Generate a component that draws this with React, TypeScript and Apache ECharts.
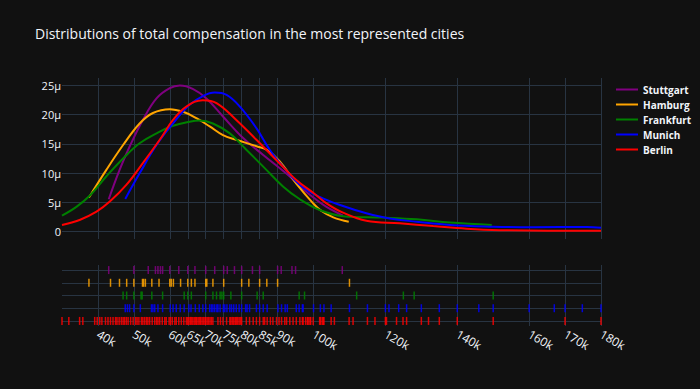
import React, { useEffect, useRef } from "react";
import * as echarts from "echarts";

// Values in thousands of euros (x) and micro-density (y)
const cities = ["Stuttgart", "Hamburg", "Frankfurt", "Munich", "Berlin"];
const colors = ["#800080", "#FFA500", "#008000", "#0000FF", "#FF0000"];

const xTicks = [40, 50, 60, 65, 70, 75, 80, 85, 90, 100, 120, 140, 160, 170, 180];
const yTicks = [0, 5, 10, 15, 20, 25];

const stuttgartKdeX = [43, 46, 48.8, 52.5, 56.3, 60, 62.8, 66.5, 70.2, 74.8, 80.4, 86, 93.4, 96.2, 100.8, 103.6, 108.2];
const stuttgartKdeY = [5.5, 10.5, 14.5, 19.1, 22.8, 24.55, 25.0, 24.4, 22.8, 19.7, 16, 13.1, 9.4, 7.7, 5.4, 4.2, 2.7];

const hamburgKdeX = [37.5, 42.3, 47, 51.6, 55.3, 60, 63.7, 67.4, 71.1, 74.8, 78.5, 84.1, 86.9, 90.6, 95.2, 99.9, 102, 105.5, 109.8];
const hamburgKdeY = [5.8, 10.5, 14.8, 18.5, 20.3, 20.95, 20.5, 19.4, 18, 16.5, 15.7, 14.6, 14, 12, 8.2, 4.8, 3.6, 2.4, 1.65];

const frankfurtKdeX = [30, 34, 37.7, 42.3, 47, 51.6, 56.3, 60.9, 65.5, 68.3, 72, 76.7, 81.3, 86, 91.5, 96.2, 101.7, 108.2, 119.4, 128.7, 138, 149.6];
const frankfurtKdeY = [2.7, 4.2, 6.1, 9.4, 12.5, 15.1, 16.8, 18.1, 18.8, 19, 18.5, 16.8, 14, 11.1, 7.7, 5.5, 3.65, 2.6, 2.35, 2.05, 1.5, 1.08];

const munichKdeX = [47.6, 51.6, 56.3, 60.9, 65.5, 69.2, 72.5, 75.8, 79.5, 84.1, 87.8, 91.5, 96.2, 101.7, 108.2, 114.7, 121.2, 128.7, 138, 150.1, 161.2, 176, 180];
const munichKdeY = [5.55, 9.95, 14.8, 18.5, 21.7, 23.2, 23.8, 23.4, 21.4, 17.7, 14, 11.1, 7.95, 5.9, 4.35, 3.1, 2.2, 1.65, 1.08, 0.8, 0.7, 0.75, 0.6];

const berlinKdeX = [30, 34.9, 39.6, 43.3, 47.9, 52.5, 57.2, 60.9, 64.6, 69.2, 73, 78.5, 84.1, 89.7, 95.2, 99.9, 103.6, 108.2, 114.7, 124, 133.3, 142.6, 151.9, 165, 180];
const berlinKdeY = [1.08, 1.94, 3.37, 5.1, 7.95, 11.7, 15.7, 19.1, 21.4, 22.5, 22, 19.1, 15.7, 12.2, 8.8, 6.6, 4.8, 3.2, 1.8, 1.37, 0.9, 0.45, 0.2, 0.1, 0.1];

const stuttgartRug = [43, 50, 54, 56, 56.7, 57.4, 58, 60, 62.5, 65, 67, 70, 72.5, 75, 76, 78, 80, 83, 85, 90, 91, 94, 95, 108];
const hamburgRug = [37.5, 43.5, 46, 48, 50, 52.4, 52.7, 53.2, 55, 57, 60, 60.4, 61, 63, 65, 66, 67, 70, 70.3, 72, 75, 80, 82, 85, 87, 90, 110];
const frankfurtRug = [47, 48, 50, 52, 52.3, 55, 58, 64, 65, 66, 70, 72, 73, 74, 74.5, 75, 77, 80, 84.3, 86, 96, 97.5, 112, 125, 128, 150];
const munichRug = [47.6, 48.2, 48.8, 50, 51.8, 54.9, 55.3, 55.8, 56.7, 58, 60.1, 60.9, 61.8, 62.9, 64, 65.3, 65.9, 67.1, 68.2, 69.2, 70, 71.1, 71.6, 72, 72.5, 73.1, 73.4, 74, 74.9, 75.3, 75.9, 76.7, 77.2, 77.8, 78.5, 79.3, 80, 81.1, 81.5, 82.2, 84.1, 85, 86, 87.1, 90.1, 91.1, 92.1, 92.7, 95.2, 96, 96.9, 97.1, 100, 101.9, 102.9, 104.9, 110, 115, 120, 121, 123.7, 125.9, 130, 135, 140, 146, 150, 160, 167, 170, 174.8, 180];
const berlinRug = [30, 31.9, 34.9, 35.8, 39.1, 39.8, 40.5, 41.1, 42.1, 42.8, 43.5, 44.2, 44.9, 45.3, 45.9, 46.5, 47, 47.4, 47.9, 48.4, 49.1, 49.8, 50.5, 50.9, 51.4, 52.1, 52.5, 53, 53.5, 53.9, 54.4, 55.1, 55.8, 56.3, 56.7, 57.2, 57.9, 58.6, 59, 59.8, 60.2, 60.7, 61.4, 61.8, 62.5, 63.2, 63.9, 64.6, 65, 65.3, 65.7, 66, 66.4, 66.8, 67.2, 67.5, 67.9, 68.3, 68.6, 69, 69.4, 69.8, 70, 70.4, 70.8, 71.2, 71.6, 72, 73.4, 74.1, 74.8, 75.8, 76.7, 77, 77.4, 77.8, 78.2, 78.5, 78.9, 79.3, 79.7, 80, 81.3, 82.2, 83.2, 84.1, 85, 86, 86.4, 87.1, 88, 88.7, 89.7, 90.4, 91.1, 92, 92.5, 93.4, 94.3, 95.2, 96.2, 96.9, 97.1, 97.8, 98.3, 98.5, 99, 99.2, 99.9, 101.7, 101.9, 102.4, 102.7, 102.9, 104.9, 105.8, 109.9, 111, 115, 117.1, 120, 120.3, 123.1, 124.9, 125.9, 130, 132, 135, 140, 150, 170, 180];

const kdeXs = [stuttgartKdeX, hamburgKdeX, frankfurtKdeX, munichKdeX, berlinKdeX];
const kdeYs = [stuttgartKdeY, hamburgKdeY, frankfurtKdeY, munichKdeY, berlinKdeY];
const rugs = [stuttgartRug, hamburgRug, frankfurtRug, munichRug, berlinRug];

const FONT = "Open Sans";
const TEXT = "#f2f5fa";
const GRID = "#283442";

export default function App() {
  const ref = useRef<HTMLDivElement>(null);
  useEffect(() => {
    document.body.style.margin = "0";
    const chart = echarts.init(ref.current!, null, { renderer: "svg" });
    const lineSeries = cities.map((c, i) => ({
      name: c,
      type: "line",
      xAxisIndex: 0,
      yAxisIndex: 0,
      smooth: 0.4,
      symbol: "none",
      showSymbol: false,
      lineStyle: { color: colors[i], width: 2 },
      itemStyle: { color: colors[i] },
      data: kdeXs[i].map((x, j) => [x, kdeYs[i][j]]),
    }));
    const rugSeries = cities.map((c, i) => ({
      name: c + " rug",
      type: "scatter",
      xAxisIndex: 1,
      yAxisIndex: 1,
      symbol: "rect",
      symbolSize: [1.5, 8],
      itemStyle: { color: colors[i], opacity: 0.85 },
      data: rugs[i].map((x) => [x, cities.length - 1 - i]),
    }));
    chart.setOption({
      animation: false,
      backgroundColor: "#111111",
      textStyle: { fontFamily: FONT },
      title: {
        text: "Distributions of total compensation in the most represented cities",
        left: 30,
        top: 21,
        textStyle: { color: TEXT, fontFamily: FONT, fontSize: 14, fontWeight: "normal" },
      },
      legend: {
        data: cities,
        orient: "vertical",
        left: 611,
        top: 77,
        icon: "rect",
        itemWidth: 22,
        itemHeight: 2,
        itemGap: 0,
        textStyle: { color: TEXT, fontFamily: FONT, fontSize: 10, fontWeight: "bold", lineHeight: 15 },
      },
      grid: [
        { left: 62, top: 78, width: 539, height: 161 },
        { left: 62, top: 265, width: 539, height: 61 },
      ],
      xAxis: [
        {
          type: "value",
          gridIndex: 0,
          min: 30,
          max: 180,
          axisLine: { show: false },
          axisTick: { show: false, customValues: xTicks },
          axisLabel: { show: false, customValues: xTicks },
          splitLine: { show: true, lineStyle: { color: GRID, width: 1 } },
        },
        {
          type: "value",
          gridIndex: 1,
          min: 30,
          max: 180,
          axisLine: { show: false },
          axisTick: { show: false, customValues: xTicks },
          axisLabel: {
            show: true,
            customValues: xTicks,
            rotate: -30,
            margin: 7,
            color: TEXT,
            fontFamily: FONT,
            fontSize: 12,
            formatter: (v: number) => v + "k",
          },
          splitLine: { show: true, lineStyle: { color: GRID, width: 1 } },
        },
      ],
      yAxis: [
        {
          type: "value",
          gridIndex: 0,
          min: -1.32,
          max: 26.3,
          axisLine: { show: false },
          axisTick: { show: false, customValues: yTicks },
          axisLabel: {
            customValues: yTicks,
            margin: 1,
            color: TEXT,
            fontFamily: FONT,
            fontSize: 11,
            formatter: (v: number) => (v === 0 ? "0" : v + "µ"),
          },
          splitLine: { show: true, lineStyle: { color: GRID, width: 1 } },
        },
        {
          type: "value",
          gridIndex: 1,
          min: -0.4,
          max: 4.4,
          axisLine: { show: false },
          axisTick: { show: false, customValues: [0, 1, 2, 3, 4] },
          axisLabel: { show: false, customValues: [0, 1, 2, 3, 4] },
          splitLine: { show: true, lineStyle: { color: GRID, width: 1 } },
        },
      ],
      series: [...rugSeries, ...lineSeries],
    });
    return () => chart.dispose();
  }, []);
  return <div ref={ref} style={{ width: 700, height: 389 }} />;
}
